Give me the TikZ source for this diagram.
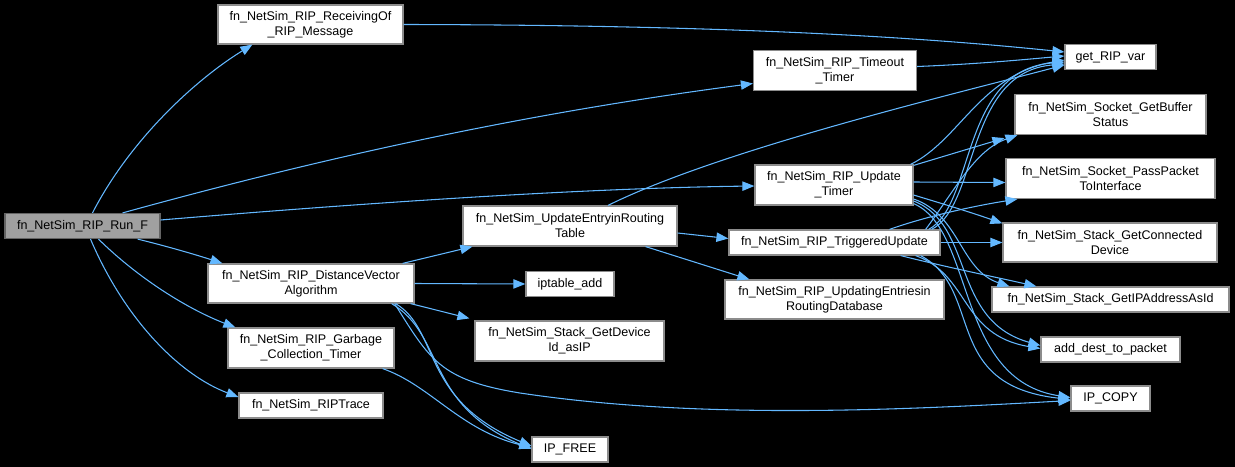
\documentclass[tikz,border=0pt]{standalone}
\usepackage{fontspec}
\setmainfont{Liberation Sans}
\usetikzlibrary{arrows.meta,calc}
\definecolor{edgec}{RGB}{99,184,255}
\definecolor{boxb}{RGB}{140,140,140}
\definecolor{runf}{RGB}{160,160,160}
\definecolor{runb}{RGB}{100,100,100}
\begin{document}
\begin{tikzpicture}[x=0.75pt,y=-0.75pt,
  fbox/.style={draw=boxb, fill=white, line width=0.9pt, inner sep=0pt, align=center,
    font=\fontsize{9.4}{11.25}\selectfont, text=black},
  sz/.style 2 args={minimum width=#1*0.75pt, minimum height=#2*0.75pt},
  edge/.style={draw=edgec, line width=0.8pt, -{Triangle[length=9pt,width=7pt]}}]
\fill[black] (0,0) rectangle (1235,467);
\useasboundingbox (0,0) rectangle (1235,467);
% nodes
\node[fbox, fill=runf, draw=runb, sz={155}{25}] (run) at (82.5,226) {fn\_NetSim\_RIP\_Run\_F};
\node[fbox, sz={185}{39}] (recv) at (310.5,24.5) {fn\_NetSim\_RIP\_ReceivingOf\\\_RIP\_Message};
\node[fbox, sz={163}{40}] (timeout) at (835,70.5) {fn\_NetSim\_RIP\_Timeout\\\_Timer};
\node[fbox, sz={91}{25}] (getvar) at (1110.5,57) {get\_RIP\_var};
\node[fbox, sz={191}{40}] (buffer) at (1110.5,114.5) {fn\_NetSim\_Socket\_GetBuffer\\Status};
\node[fbox, sz={209}{40}] (pass) at (1110.5,178.5) {fn\_NetSim\_Socket\_PassPacket\\ToInterface};
\node[fbox, sz={214}{39}] (conn) at (1110,242.5) {fn\_NetSim\_Stack\_GetConnected\\Device};
\node[fbox, sz={237}{25}] (ipaddr) at (1110.5,299.5) {fn\_NetSim\_Stack\_GetIPAddressAsId};
\node[fbox, sz={139}{25}] (adddest) at (1110.5,349.5) {add\_dest\_to\_packet};
\node[fbox, sz={79}{25}] (ipcopy) at (1110.5,398.5) {IP\_COPY};
\node[fbox, sz={158}{40}] (uptimer) at (834,185) {fn\_NetSim\_RIP\_Update\\\_Timer};
\node[fbox, sz={211}{25}] (trig) at (834.5,242.5) {fn\_NetSim\_RIP\_TriggeredUpdate};
\node[fbox, sz={219}{39}] (updating) at (834.5,299.5) {fn\_NetSim\_RIP\_UpdatingEntriesin\\RoutingDatabase};
\node[fbox, sz={214}{40}] (uentry) at (570,226) {fn\_NetSim\_UpdateEntryinRouting\\Table};
\node[fbox, sz={206}{39}] (dv) at (311,283.5) {fn\_NetSim\_RIP\_DistanceVector\\Algorithm};
\node[fbox, sz={88}{25}] (iptable) at (570,284) {iptable\_add};
\node[fbox, sz={189}{40}] (devid) at (569.5,341) {fn\_NetSim\_Stack\_GetDevice\\Id\_asIP};
\node[fbox, sz={166}{40}] (garbage) at (311,348) {fn\_NetSim\_RIP\_Garbage\\\_Collection\_Timer};
\node[fbox, sz={144}{25}] (trace) at (311,405.5) {fn\_NetSim\_RIPTrace};
\node[fbox, sz={76}{25}] (ipfree) at (570,449.5) {IP\_FREE};
% edges from run
\draw[edge] ($(run.north)+(10,0)$) .. controls (130,140) and (195,80) .. ($(recv.south west)+(35,0)$);
\draw[edge] ($(run.north east)+(-38,0)$) .. controls (350,150) and (550,110) .. ($(timeout.west)+(0,13)$);
\draw[edge] ($(run.east)+(0,-6)$) .. controls (400,200) and (600,188) .. ($(uptimer.west)+(0,1)$);
\draw[edge] ($(run.south east)+(-23,0)$) .. controls (170,247) and (200,256) .. ($(dv.north west)+(15,0)$);
\draw[edge] ($(run.south)+(16,0)$) .. controls (140,280) and (190,310) .. ($(garbage.north west)+(8,0)$);
\draw[edge] ($(run.south)+(8,0)$) .. controls (125,320) and (180,375) .. ($(trace.west)+(0,-8.5)$);
% to get_RIP_var
\draw[edge] (recv.east) .. controls (700,25) and (900,35) .. ($(getvar.west)+(0,-5)$);
\draw[edge] ($(timeout.east)+(0,-4)$) .. controls (980,64) and (1030,59) .. ($(getvar.west)+(0,-1)$);
\draw[edge] ($(uentry.north)+(38,0)$) .. controls (720,150) and (950,95) .. ($(getvar.west)+(0,8)$);
% from uentry
\draw[edge] ($(uentry.east)+(0,7)$) -- ($(trig.west)+(0,-4)$);
\draw[edge] ($(uentry.south east)+(-32,0)$) -- ($(updating.north west)+(25,0)$);
% from dv
\draw[edge] ($(dv.north east)+(-12,0)$) -- ($(uentry.south west)+(10,0)$);
\draw[edge] (dv.east) -- (iptable.west);
\draw[edge] ($(dv.south east)+(-4,0)$) -- ($(devid.north west)+(-5,-2)$);
\draw[edge] ($(dv.south east)+(-20,0)$) .. controls (430,360) and (440,380) .. (520,393) .. controls (700,420) and (900,410) .. ($(ipcopy.west)+(0,2)$);
\draw[edge] ($(dv.south east)+(-19,0)$) .. controls (440,330) and (420,400) .. ($(ipfree.west)+(0,-3.5)$);
\draw[edge] ($(dv.south east)+(-23,0)$) .. controls (445,335) and (425,405) .. ($(ipfree.west)+(0,-0.5)$);
\draw[edge] ($(garbage.south east)+(-12,0)$) .. controls (430,385) and (460,430) .. ($(ipfree.west)+(0,-2)$);
% from update timer
\draw[edge] ($(uptimer.north east)+(-3,0)$) .. controls (960,140) and (980,75) .. ($(getvar.west)+(0,3)$);
\draw[edge] ($(uptimer.north east)+(0,1)$) -- ($(buffer.south west)+(-10,3)$);
\draw[edge] ($(uptimer.east)+(0,-3)$) -- ($(pass.west)+(0,4)$);
\draw[edge] ($(uptimer.east)+(0,10)$) .. controls (940,203) and (970,212) .. ($(conn.north west)+(0,1)$);
\draw[edge] ($(uptimer.east)+(0,14)$) .. controls (960,215) and (960,270) .. ($(ipaddr.north west)+(18,0)$);
\draw[edge] ($(uptimer.east)+(0,16)$) .. controls (975,225) and (950,320) .. ($(adddest.west)+(0,-4)$);
\draw[edge] ($(uptimer.south east)+(0,-2)$) .. controls (975,230) and (955,380) .. ($(ipcopy.west)+(0,-1)$);
% from triggered update
\draw[edge] ($(trig.north east)+(-12,0)$) .. controls (975,205) and (960,70) .. ($(getvar.west)+(0,5)$);
\draw[edge] ($(trig.north east)+(-9,0)$) .. controls (979,205) and (965,72) .. ($(getvar.west)+(0,7)$);
\draw[edge] ($(trig.north east)+(-15,0)$) .. controls (955,190) and (975,150) .. ($(buffer.south west)+(3,0)$);
\draw[edge] ($(trig.north)+(55,0)$) .. controls (930,215) and (980,205) .. ($(pass.south west)+(12,0)$);
\draw[edge] (trig.east) -- (conn.west);
\draw[edge] ($(trig.south east)+(-40,0)$) .. controls (950,268) and (1000,278) .. ($(ipaddr.north west)+(45,0)$);
\draw[edge] ($(trig.south east)+(-25,0)$) .. controls (970,275) and (960,335) .. ($(adddest.west)+(0,-1)$);
\draw[edge] ($(trig.south east)+(-20,0)$) .. controls (985,290) and (940,385) .. ($(ipcopy.west)+(0,1)$);
\end{tikzpicture}
\end{document}
